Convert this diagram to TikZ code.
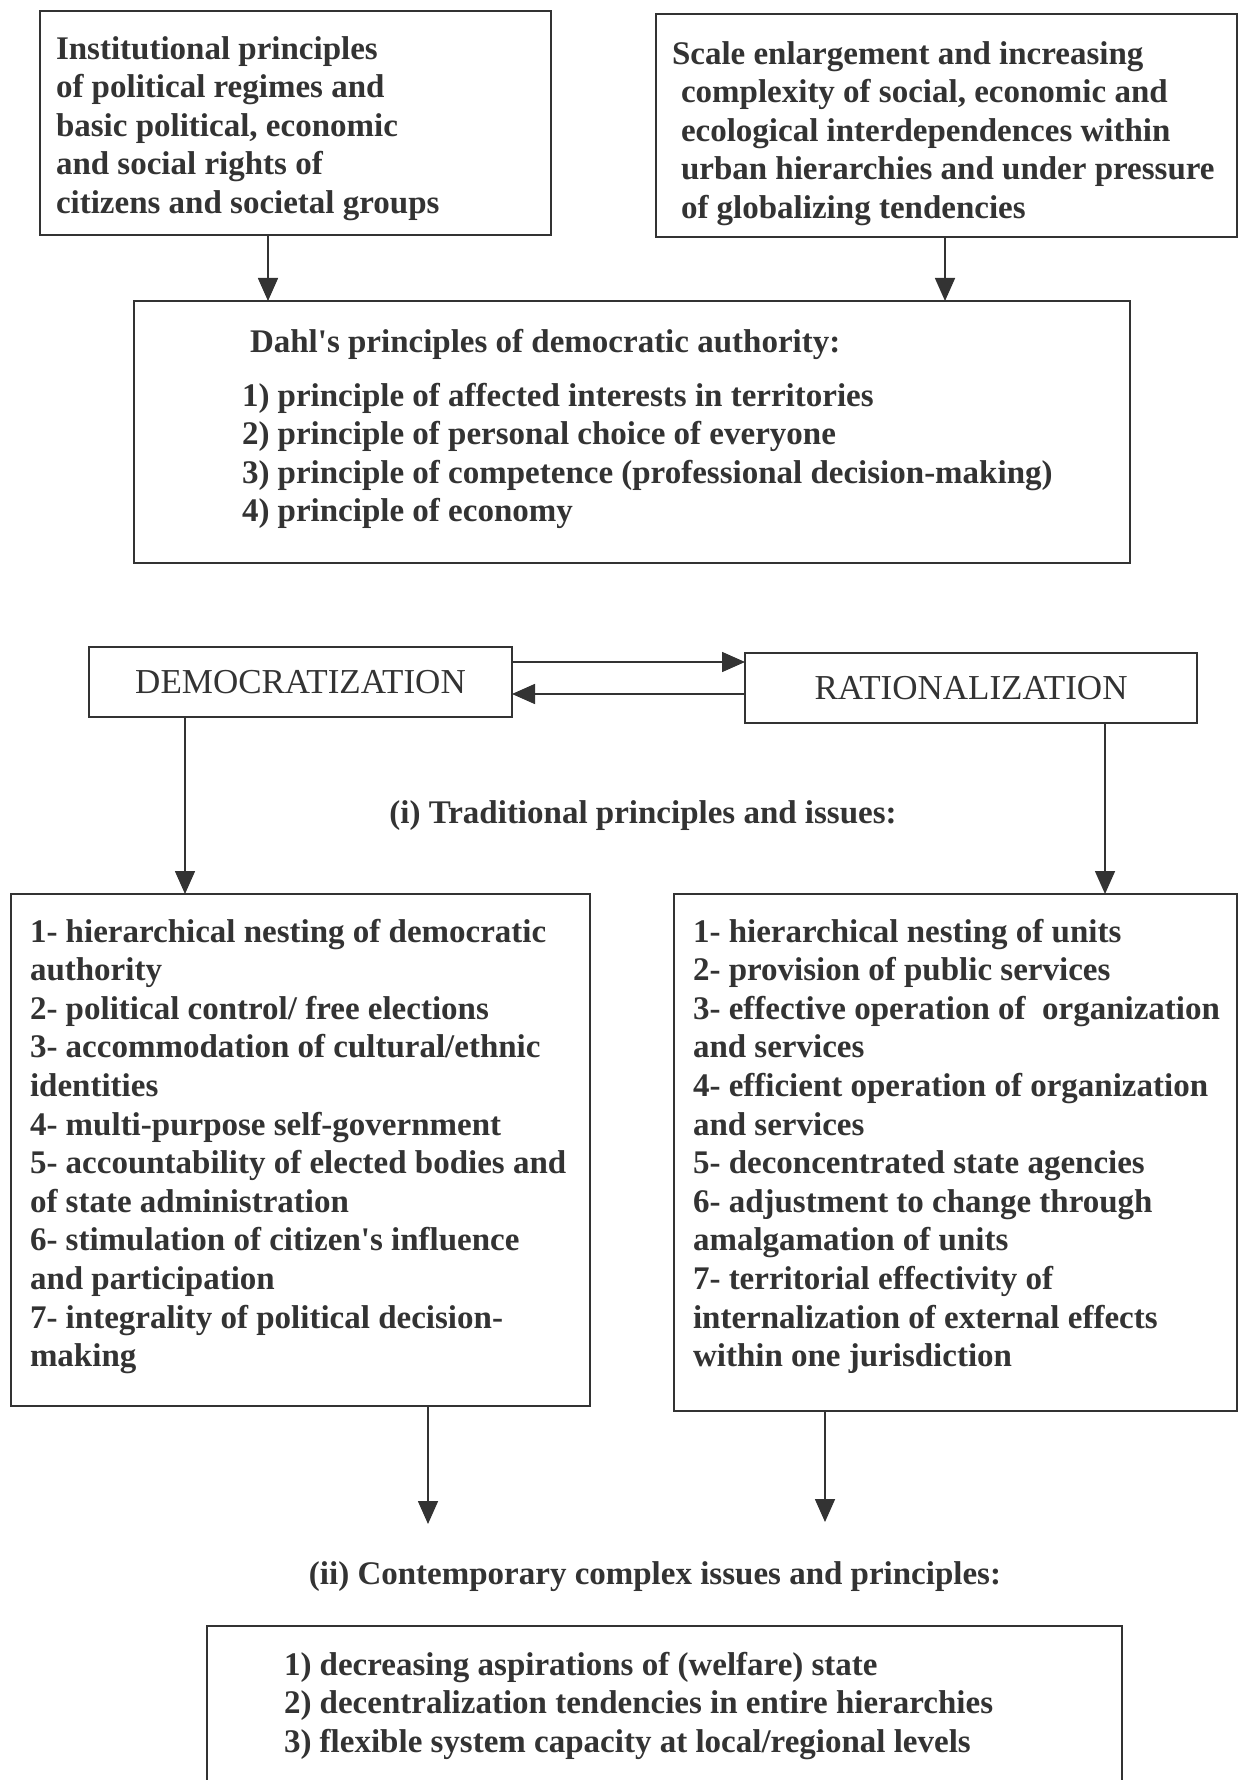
\documentclass[tikz,border=0pt]{standalone}
\usepackage{fontspec}
\setmainfont{Liberation Serif}
\usetikzlibrary{arrows.meta}
\definecolor{ink}{HTML}{333333}
\begin{document}
\begin{tikzpicture}[x=0.5pt,y=-0.5pt,
  box/.style={draw=ink, line width=1.2pt, inner sep=0pt, outer sep=0pt, anchor=north west},
  txt/.style={inner sep=0pt, outer sep=0pt, anchor=north west, align=left, text=ink,
    font=\bfseries\fontsize{16.5pt}{19.3pt}\selectfont},
  big/.style={text=ink, font=\fontsize{17.5pt}{21pt}\selectfont},
  lbl/.style={inner sep=0pt, anchor=base, text=ink,
    font=\bfseries\fontsize{16.5pt}{19.3pt}\selectfont},
  arr/.style={draw=ink, line width=0.8pt, -{Triangle[length=11.5pt,width=10pt]}}]
\useasboundingbox (0,0) rectangle (1240,1780);
\clip (0,0) rectangle (1240,1780);
\fill[white] (0,0) rectangle (1240,1780);

% boxes
\node[box, minimum width=255.5pt, minimum height=112pt] (b1) at (40,11) {};
\node[box, minimum width=290.5pt, minimum height=111.5pt] (b2) at (656,14) {};
\node[box, minimum width=498pt, minimum height=131pt] (dahl) at (134,301) {};
\node[box, big, minimum width=211.5pt, minimum height=35pt] (dem) at (89,647) {DEMOCRATIZATION};
\node[box, big, minimum width=226pt, minimum height=35pt] (rat) at (745,653) {RATIONALIZATION};
\node[box, minimum width=289.5pt, minimum height=256pt] (lb) at (11,894) {};
\node[box, minimum width=281.5pt, minimum height=258.5pt] (rb) at (674,894) {};
\node[box, minimum width=457.5pt, minimum height=100pt] (bb) at (207,1626) {};

% texts
\node[txt] (t1) at (56,32) {\strut Institutional principles\\of political regimes and\\basic political, economic\\and social rights of\\citizens and societal groups};
\node[txt] (t2) at (681,37) {\hspace*{-4.5pt}\strut Scale enlargement and increasing\\complexity of social, economic and\\ecological interdependences within\\urban hierarchies and under pressure\\of globalizing tendencies};
\node[txt] (t3) at (242,325) {\hspace*{4pt}\strut Dahl\textquotesingle s principles of democratic authority:\\[7.7pt]1) principle of affected interests in territories\\2) principle of personal choice of everyone\\3) principle of competence (professional decision-making)\\4) principle of economy};
\node[lbl] (l1) at (643,823) {(i) Traditional principles and issues:};
\node[txt] (t4) at (30,915) {\strut 1- hierarchical nesting of democratic\\authority\\2- political control/ free elections\\3- accommodation of cultural/ethnic\\identities\\4- multi-purpose self-government\\5- accountability of elected bodies and\\of state administration\\6- stimulation of citizen\textquotesingle s influence\\and participation\\7- integrality of political decision-\\making};
\node[txt] (t5) at (693,915) {\strut 1- hierarchical nesting of units\\2- provision of public services\\3- effective operation of \ organization\\and services\\4- efficient operation of organization\\and services\\5- deconcentrated state agencies\\6- adjustment to change through\\amalgamation of units\\7- territorial effectivity of\\internalization of external effects\\within one jurisdiction};
\node[lbl] (l2) at (655,1584) {(ii) Contemporary complex issues and principles:};
\node[txt] (t6) at (284,1648) {\strut 1) decreasing aspirations of (welfare) state\\2) decentralization tendencies in entire hierarchies\\3) flexible system capacity at local/regional levels};

% helper coordinates
\coordinate (x1) at (268,0);
\coordinate (x2) at (945,0);
\coordinate (yu) at (0,662);
\coordinate (yl) at (0,694);
\coordinate (x3) at (185,0);
\coordinate (x4) at (1105,0);
\coordinate (e1) at (428,1524);
\coordinate (e2) at (825,1522);

% connectors
\draw[arr] (b1.south -| x1) -- (dahl.north -| x1);
\draw[arr] (b2.south -| x2) -- (dahl.north -| x2);
\draw[arr] (dem.east |- yu) -- (rat.west |- yu);
\draw[arr] (rat.west |- yl) -- (dem.east |- yl);
\draw[arr] (dem.south -| x3) -- (lb.north -| x3);
\draw[arr] (rat.south -| x4) -- (rb.north -| x4);
\draw[arr] (lb.south -| e1) -- (e1);
\draw[arr] (rb.south -| e2) -- (e2);
\end{tikzpicture}
\end{document}
